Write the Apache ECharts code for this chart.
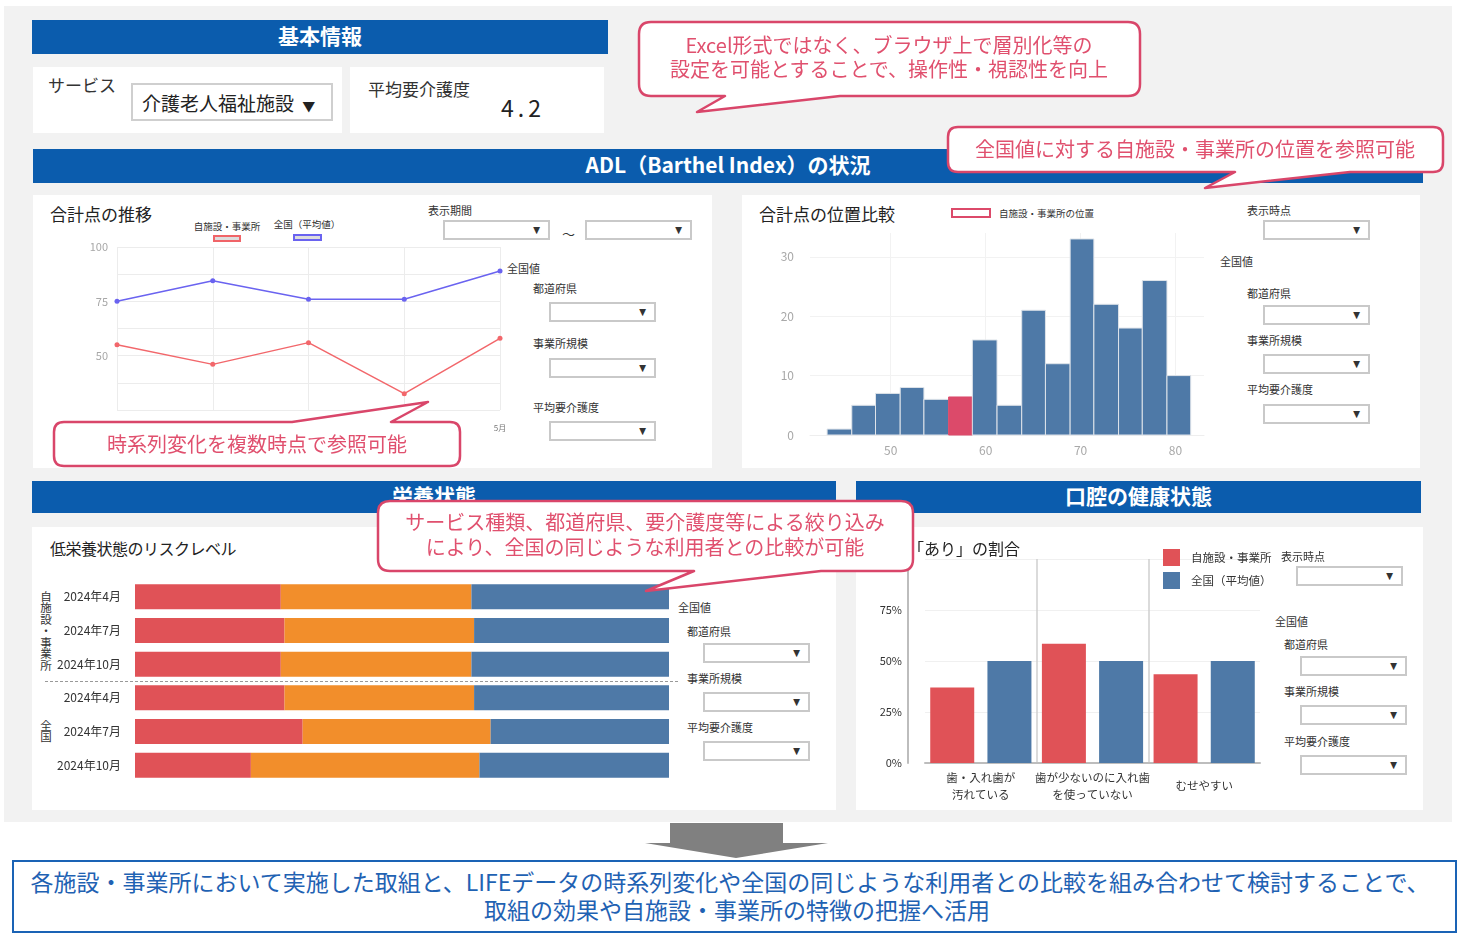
<!DOCTYPE html>
<html>
<head>
<meta charset="utf-8">
<title>LIFE フィードバック</title>
<script src="https://cdn.jsdelivr.net/npm/echarts@6/dist/echarts.min.js"></script>
<style>
body { margin:0; width:1459px; height:935px; background:#fff; position:relative; overflow:hidden;
       font-family:"Noto Sans CJK JP","Noto Sans",sans-serif; color:#333; }
.panel { position:absolute; background:#fff; }
.hbar { position:absolute; background:#0b5cad; color:#fff; font-weight:bold; font-size:21px; box-sizing:border-box;
        padding-bottom:4px; display:flex; align-items:center; justify-content:center; }
.t { position:absolute; white-space:nowrap; line-height:1; transform:translateY(-50%); }
.c { position:absolute; white-space:nowrap; line-height:1; transform:translate(-50%,-50%); }
.sel { position:absolute; background:#fff; border:2px solid #c9c9c9; box-sizing:border-box; }
.sel:after { content:"▼"; position:absolute; right:7px; top:50%; transform:translateY(-50%) scaleX(0.8);
             font-size:9px; color:#333; }
.vt { position:absolute; writing-mode:vertical-rl; white-space:nowrap; font-size:11.5px; line-height:16px;
      transform:translateY(-50%); }
.chart { position:absolute; }
.note { position:absolute; color:#e0506e; font-size:20px; line-height:1.25; text-align:center;
        white-space:nowrap; transform:translate(-50%,-50%); z-index:11; }
</style>
</head>
<body>
<div style="position:absolute;left:4px;top:6px;width:1448px;height:816px;background:#f2f2f2;"></div>

<!-- 基本情報 -->
<div class="hbar" style="left:32px;top:20px;width:576px;height:34px;">基本情報</div>
<div class="panel" style="left:33px;top:67px;width:309px;height:66px;"></div>
<div class="panel" style="left:350px;top:67px;width:254px;height:66px;"></div>
<div class="t" style="left:48px;top:84px;font-size:17px;">サービス</div>
<div style="position:absolute;left:131px;top:83px;width:202px;height:38px;box-sizing:border-box;border:2px solid #cfcfcf;background:#fff;"></div>
<div class="t" style="left:142px;top:102px;font-size:19px;color:#222;">介護老人福祉施設 <span style="font-size:13px;margin-left:4px;">▼</span></div>
<div class="t" style="left:368px;top:88px;font-size:17px;">平均要介護度</div>
<div class="t" style="left:501px;top:107px;font-size:23px;letter-spacing:4px;color:#222;">4.2</div>

<!-- ADL -->
<div class="hbar" style="left:33px;top:149px;width:1390px;height:34px;">ADL（Barthel Index）の状況</div>
<div class="panel" style="left:33px;top:195px;width:679px;height:273px;"></div>
<div class="panel" style="left:742px;top:195px;width:678px;height:273px;"></div>

<div class="t" style="left:50px;top:213px;font-size:17px;color:#222;">合計点の推移</div>
<div class="c" style="left:227px;top:227px;font-size:9.5px;">自施設・事業所</div>
<div style="position:absolute;left:213px;top:235px;width:28px;height:7px;box-sizing:border-box;background:#ddd;border:2px solid #f06468;"></div>
<div class="c" style="left:307px;top:225px;font-size:9.5px;">全国（平均値）</div>
<div style="position:absolute;left:293px;top:234px;width:29px;height:7px;box-sizing:border-box;background:#ddd;border:2px solid #6a63f0;"></div>
<div class="t" style="left:428px;top:210px;font-size:11px;">表示期間</div>
<div class="sel" style="left:443px;top:220px;width:107px;height:20px;"></div>
<div class="t" style="left:562px;top:233px;font-size:13px;">～</div>
<div class="sel" style="left:585px;top:220px;width:107px;height:20px;"></div>
<div class="t" style="left:507px;top:268px;font-size:11px;">全国値</div>
<div class="t" style="left:533px;top:288px;font-size:11px;">都道府県</div>
<div class="sel" style="left:549px;top:302px;width:107px;height:20px;"></div>
<div class="t" style="left:533px;top:343px;font-size:11px;">事業所規模</div>
<div class="sel" style="left:549px;top:358px;width:107px;height:20px;"></div>
<div class="t" style="left:533px;top:407px;font-size:11px;">平均要介護度</div>
<div class="sel" style="left:549px;top:421px;width:107px;height:20px;"></div>
<div id="lineChart" class="chart" style="left:33px;top:195px;width:679px;height:273px;"></div>

<div class="t" style="left:759px;top:213px;font-size:17px;color:#222;">合計点の位置比較</div>
<div style="position:absolute;left:951px;top:208px;width:40px;height:10px;box-sizing:border-box;background:#fff;border:2px solid #dc4a6a;"></div>
<div class="t" style="left:999px;top:214px;font-size:9.5px;">自施設・事業所の位置</div>
<div class="t" style="left:1247px;top:210px;font-size:11px;">表示時点</div>
<div class="sel" style="left:1263px;top:220px;width:107px;height:20px;"></div>
<div class="t" style="left:1220px;top:261px;font-size:11px;">全国値</div>
<div class="t" style="left:1247px;top:293px;font-size:11px;">都道府県</div>
<div class="sel" style="left:1263px;top:305px;width:107px;height:20px;"></div>
<div class="t" style="left:1247px;top:340px;font-size:11px;">事業所規模</div>
<div class="sel" style="left:1263px;top:354px;width:107px;height:20px;"></div>
<div class="t" style="left:1247px;top:389px;font-size:11px;">平均要介護度</div>
<div class="sel" style="left:1263px;top:404px;width:107px;height:20px;"></div>
<div id="histChart" class="chart" style="left:742px;top:195px;width:678px;height:273px;"></div>

<!-- 栄養状態 / 口腔 -->
<div class="hbar" style="left:32px;top:481px;width:804px;height:32px;">栄養状態</div>
<div class="hbar" style="left:856px;top:481px;width:565px;height:32px;">口腔の健康状態</div>
<div class="panel" style="left:32px;top:527px;width:804px;height:283px;"></div>
<div class="panel" style="left:856px;top:527px;width:567px;height:283px;"></div>

<div class="t" style="left:50px;top:548px;font-size:16px;color:#222;letter-spacing:-0.5px;">低栄養状態のリスクレベル</div>
<div class="vt" style="left:38px;top:631px;">自施設・事業所</div>
<div class="vt" style="left:38px;top:731px;">全国</div>
<div style="position:absolute;left:45px;top:681px;width:633px;border-top:1px dashed #999;"></div>
<div class="t" style="left:678px;top:607px;font-size:11px;">全国値</div>
<div class="t" style="left:687px;top:631px;font-size:11px;">都道府県</div>
<div class="sel" style="left:703px;top:643px;width:107px;height:20px;"></div>
<div class="t" style="left:687px;top:678px;font-size:11px;">事業所規模</div>
<div class="sel" style="left:703px;top:692px;width:107px;height:20px;"></div>
<div class="t" style="left:687px;top:727px;font-size:11px;">平均要介護度</div>
<div class="sel" style="left:703px;top:741px;width:107px;height:20px;"></div>
<div id="nutrChart" class="chart" style="left:32px;top:527px;width:804px;height:283px;"></div>

<div class="t" style="left:828px;top:548px;font-size:16px;color:#222;">口腔の状態「あり」の割合</div>
<div class="t" style="left:1281px;top:556px;font-size:11px;">表示時点</div>
<div class="sel" style="left:1296px;top:566px;width:107px;height:20px;"></div>
<div class="t" style="left:1275px;top:621px;font-size:11px;">全国値</div>
<div class="t" style="left:1284px;top:644px;font-size:11px;">都道府県</div>
<div class="sel" style="left:1300px;top:656px;width:107px;height:20px;"></div>
<div class="t" style="left:1284px;top:691px;font-size:11px;">事業所規模</div>
<div class="sel" style="left:1300px;top:705px;width:107px;height:20px;"></div>
<div class="t" style="left:1284px;top:741px;font-size:11px;">平均要介護度</div>
<div class="sel" style="left:1300px;top:755px;width:107px;height:20px;"></div>
<div id="oralChart" class="chart" style="left:856px;top:527px;width:567px;height:283px;"></div>

<!-- callouts -->
<svg style="position:absolute;left:0;top:0;z-index:10;" width="1459" height="935">
  <g fill="#fff" stroke="#d9466a" stroke-width="2.5" stroke-linejoin="round">
    <path d="M651 22 H1128 Q1140 22 1140 34 V84 Q1140 96 1128 96 H840 L697 112 L725 96 H651 Q639 96 639 84 V34 Q639 22 651 22 Z"/>
    <path d="M958 127 H1433 Q1443 127 1443 137 V162 Q1443 172 1433 172 H1350 L1205 188 L1235 172 H958 Q948 172 948 162 V137 Q948 127 958 127 Z"/>
    <path d="M390 501 H901 Q913 501 913 513 V559 Q913 571 901 571 H821 L646 591 L694 571 H390 Q378 571 378 559 V513 Q378 501 390 501 Z"/>
    <path d="M64 422 H292 L428 402 L391 422 H450 Q460 422 460 432 V456 Q460 466 450 466 H64 Q54 466 54 456 V432 Q54 422 64 422 Z"/>
  </g>
  <rect x="670" y="823" width="113" height="21" fill="#808080"/>
  <polygon points="645,843 828,843 736,858" fill="#808080"/>
</svg>
<div class="note" style="left:889px;top:57px;font-size:20px;line-height:24px;">Excel形式ではなく、ブラウザ上で層別化等の<br>設定を可能とすることで、操作性・視認性を向上</div>
<div class="note" style="left:1195px;top:148px;">全国値に対する自施設・事業所の位置を参照可能</div>
<div class="note" style="left:645px;top:534px;">サービス種類、都道府県、要介護度等による絞り込み<br>により、全国の同じような利用者との比較が可能</div>
<div class="note" style="left:257px;top:443px;">時系列変化を複数時点で参照可能</div>

<div style="position:absolute;left:12px;top:860px;width:1445px;height:73px;box-sizing:border-box;border:2px solid #1a63b5;"></div>
<div class="c" style="left:730px;top:881px;font-size:23px;color:#1f62b3;">各施設・事業所において実施した取組と、LIFEデータの時系列変化や全国の同じような利用者との比較を組み合わせて検討することで、</div>
<div class="c" style="left:737px;top:909px;font-size:23px;color:#1f62b3;">取組の効果や自施設・事業所の特徴の把握へ活用</div>

<script type="text/javascript">
// 合計点の推移
var months = ['1月', '2月', '3月', '4月', '5月'];
var ownScore = [55, 46, 56, 32.5, 58];
var natScore = [75, 84.5, 76, 76, 89];

// 合計点の位置比較（ヒストグラム）
var binEdges = [43.3, 45.9, 48.4, 51.0, 53.5, 56.1, 58.6, 61.2, 63.8, 66.3, 68.9, 71.4, 74.0, 76.5, 79.1, 81.6];
var binCounts = [1, 5, 7, 8, 6, 6.4, 16, 5, 21, 12, 33, 22, 18, 26, 10];
var ownBin = 5;

// 低栄養状態のリスクレベル
var periodGroups = ['自施設', '自施設', '自施設', '全国', '全国', '全国'];
var periods = ['2024年4月', '2024年7月', '2024年10月', '2024年4月', '2024年7月', '2024年10月'];
var highRisk = [27.3, 28.0, 27.3, 28.0, 31.4, 21.7];
var midRisk = [35.7, 35.5, 35.7, 35.5, 35.2, 42.8];
var lowRisk = [37.0, 36.5, 37.0, 36.5, 33.4, 35.5];

// 口腔の健康状態
var oralItems = ['歯・入れ歯が\n汚れている', '歯が少ないのに入れ歯\nを使っていない', 'むせやすい'];
var ownOral = [37, 58.5, 43.5];
var natOral = [50, 50, 50];

var font = '"Noto Sans CJK JP", sans-serif';

var lineChart = echarts.init(document.getElementById('lineChart'));
lineChart.setOption({
    animation: false,
    textStyle: { fontFamily: font },
    grid: { left: 84, right: 212, top: 52, bottom: 58, outerBoundsMode: 'none' },
    xAxis: {
        type: 'category', data: months, boundaryGap: false,
        axisLine: { show: false }, axisTick: { show: false },
        axisLabel: { fontSize: 8, color: '#777', margin: 14 },
        splitLine: { show: true, lineStyle: { color: '#ececec' } }
    },
    yAxis: {
        type: 'value', min: 25, max: 100, interval: 12.5,
        axisLine: { show: false }, axisTick: { show: false },
        axisLabel: { fontSize: 11, color: '#a8a8a8', margin: 9,
            formatter: function (v) { return (v % 25 === 0 && v > 25) ? v : ''; } },
        splitLine: { lineStyle: { color: '#ececec' } }
    },
    series: [
        { type: 'line', name: '自施設・事業所', data: ownScore, color: '#f2676b',
          symbol: 'circle', symbolSize: 5, lineStyle: { width: 1.5 } },
        { type: 'line', name: '全国（平均値）', data: natScore, color: '#6a63f0',
          symbol: 'circle', symbolSize: 5, lineStyle: { width: 1.5 } }
    ]
});

var histData = binCounts.map(function (c, i) { return [binEdges[i], binEdges[i + 1], c]; });
var histChart = echarts.init(document.getElementById('histChart'));
histChart.setOption({
    animation: false,
    textStyle: { fontFamily: font },
    grid: { left: 68, right: 216, top: 38, bottom: 33, outerBoundsMode: 'none' },
    xAxis: {
        type: 'value', min: 41.5, max: 83,
        axisLine: { show: true, lineStyle: { color: '#eeeeee' } }, axisTick: { show: false },
        axisLabel: { fontSize: 12, color: '#a8a8a8', margin: 9, showMinLabel: false, showMaxLabel: false },
        splitLine: { show: true, showMinLine: false, showMaxLine: false, lineStyle: { color: '#f2f2f2' } }
    },
    yAxis: {
        type: 'value', min: 0, max: 34, interval: 10,
        axisLine: { show: false }, axisTick: { show: false },
        axisLabel: { fontSize: 12, color: '#a8a8a8', margin: 16, showMaxLabel: false },
        splitLine: { showMaxLine: false, lineStyle: { color: '#f2f2f2' } }
    },
    series: [{
        type: 'custom', data: histData, encode: { x: [0, 1], y: 2 },
        renderItem: function (params, api) {
            var p0 = api.coord([api.value(0), api.value(2)]);
            var p1 = api.coord([api.value(1), 0]);
            var own = params.dataIndex === ownBin;
            return {
                type: 'rect',
                shape: { x: p0[0], y: p0[1], width: p1[0] - p0[0], height: p1[1] - p0[1] },
                style: { fill: own ? '#dc4a6a' : '#4e79a7', stroke: own ? '#dc4a6a' : '#dfe4ea', lineWidth: 1 }
            };
        }
    }]
});

var nutrChart = echarts.init(document.getElementById('nutrChart'));
nutrChart.setOption({
    animation: false,
    textStyle: { fontFamily: font },
    grid: { left: 103, right: 167, top: 53, bottom: 28, outerBoundsMode: 'none' },
    xAxis: { type: 'value', min: 0, max: 100, show: false },
    yAxis: {
        type: 'category', inverse: true,
        data: periods.map(function (p, i) { return periodGroups[i] + '|' + p; }),
        axisLine: { show: false }, axisTick: { show: false },
        axisLabel: { fontSize: 12, color: '#333', margin: 14,
            formatter: function (v) { return v.split('|')[1]; } }
    },
    series: [
        { type: 'bar', name: '高リスク', stack: 'r', data: highRisk, color: '#e05257', barWidth: 25 },
        { type: 'bar', name: '中リスク', stack: 'r', data: midRisk, color: '#f28e2b', barWidth: 25 },
        { type: 'bar', name: '低リスク', stack: 'r', data: lowRisk, color: '#4e79a7', barWidth: 25 }
    ]
});

var oralChart = echarts.init(document.getElementById('oralChart'));
oralChart.setOption({
    animation: false,
    textStyle: { fontFamily: font },
    legend: {
        orient: 'vertical', left: 302, top: 17, icon: 'rect',
        itemWidth: 17, itemHeight: 17, itemGap: 6,
        textStyle: { fontSize: 11.5, color: '#333', padding: [0, 0, 0, 6] },
        data: ['自施設・事業所', '全国（平均値）']
    },
    grid: { left: 69, right: 163, top: 32, bottom: 47, outerBoundsMode: 'none' },
    xAxis: {
        type: 'category', data: oralItems,
        axisLine: { lineStyle: { color: '#bdbdbd', width: 2 } }, axisTick: { show: false },
        axisLabel: { fontSize: 11.5, color: '#333', margin: 23, lineHeight: 17, interval: 0,
            verticalAlign: 'middle' },
        splitLine: { show: true, showMinLine: false, showMaxLine: false, lineStyle: { color: '#cfcfcf', width: 1.5 } }
    },
    yAxis: {
        type: 'value', min: 0, max: 100, interval: 25, offset: 17,
        axisLine: { show: true, lineStyle: { color: '#bdbdbd', width: 2 } }, axisTick: { show: false },
        axisLabel: { fontSize: 11, color: '#333', margin: 6,
            formatter: function (v) { return v === 100 ? '' : v + '%'; } },
        splitLine: { lineStyle: { color: '#f0f0f0' } }
    },
    series: [
        { type: 'bar', name: '自施設・事業所', data: ownOral, color: '#e05257', barWidth: 44, barGap: '30%' },
        { type: 'bar', name: '全国（平均値）', data: natOral, color: '#4e79a7', barWidth: 44, barGap: '30%' }
    ]
});
</script>
</body>
</html>
